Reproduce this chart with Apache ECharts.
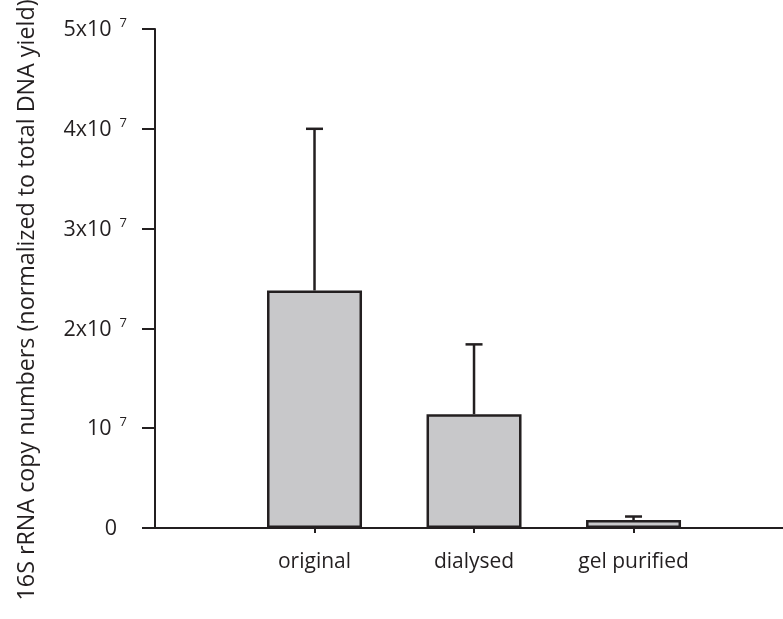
<!DOCTYPE html>
<html>
<head>
<meta charset="utf-8">
<script src="https://cdn.jsdelivr.net/npm/echarts@6/dist/echarts.min.js"></script>
<style>
  html, body { margin: 0; padding: 0; background: #fff; }
  #chart { width: 783px; height: 619px; }
</style>
</head>
<body>
<div id="chart"></div>
<script>
// Sample preparations and 16S rRNA copy numbers (normalized to total DNA yield)
const categories = ['original', 'dialysed', 'gel purified'];
const meanCopies = [2.38e7, 1.14e7, 0.08e7];
const errorUpper = [1.62e7, 0.70e7, 0.035e7];

// Y tick labels: mantissa text and power-of-ten exponent
const yTickMantissa = ['0', '10', '2x10', '3x10', '4x10', '5x10'];
const yTickExponent = ['', '7', '7', '7', '7', '7'];

const yTitle = '16S rRNA copy numbers (normalized to total DNA yield)';

const ink = '#231f20';
const fontFamily = '"Open Sans", "Liberation Sans", sans-serif';

const barData = categories.map((c, i) => [i + 1, meanCopies[i]]);
const errData = categories.map((c, i) => [i + 1, meanCopies[i], meanCopies[i] + errorUpper[i]]);

const chart = echarts.init(document.getElementById('chart'), null, { renderer: 'canvas' });

chart.setOption({
  animation: false,
  backgroundColor: '#ffffff',
  grid: { left: 155, right: 0, top: 29, bottom: 91, containLabel: false },
  xAxis: {
    type: 'value',
    min: 0,
    max: 3.937,
    axisLine: { show: true, onZero: false, lineStyle: { color: ink, width: 2 } },
    axisTick: { show: true, customValues: [1, 2, 3], length: 5, lineStyle: { color: ink, width: 2 } },
    axisLabel: {
      customValues: [1, 2, 3],
      formatter: v => categories[Math.round(v) - 1] || '',
      color: ink, fontFamily, fontSize: 21, margin: 24
    },
    splitLine: { show: false }
  },
  yAxis: {
    type: 'value',
    min: 0,
    max: 5e7,
    interval: 1e7,
    axisLine: { show: true, lineStyle: { color: ink, width: 2 } },
    axisTick: { show: true, length: 13, lineStyle: { color: ink, width: 2 } },
    axisLabel: {
      margin: 28,
      formatter: (v) => {
        const i = Math.round(v / 1e7);
        if (!yTickExponent[i]) return '{b|' + yTickMantissa[i] + '}{pad|}';
        return '{b|' + yTickMantissa[i] + '}{s|' + yTickExponent[i] + '}';
      },
      rich: {
        b: { color: ink, fontFamily, fontSize: 21.5, lineHeight: 24, verticalAlign: 'bottom' },
        s: { color: ink, fontFamily, fontSize: 13, lineHeight: 24, verticalAlign: 'top', padding: [0, 0, 0, 8] },
        pad: { width: 10 }
      }
    },
    splitLine: { show: false }
  },
  graphic: [
    {
      type: 'text',
      x: 27,
      y: 300,
      rotation: Math.PI / 2,
      style: {
        text: yTitle,
        fill: ink,
        font: '23.3px ' + fontFamily,
        align: 'center',
        verticalAlign: 'middle'
      }
    }
  ],
  series: [
    {
      type: 'bar',
      data: barData,
      barWidth: 95,
      itemStyle: { color: '#c8c8ca', borderColor: ink, borderWidth: 2.5 },
      z: 2
    },
    {
      type: 'custom',
      data: errData,
      z: 3,
      renderItem: (params, api) => {
        const x = api.value(0);
        const base = api.coord([x, api.value(1)]);
        const top = api.coord([x, api.value(2)]);
        const half = 8.5;
        return {
          type: 'group',
          children: [
            { type: 'line', shape: { x1: base[0], y1: base[1], x2: top[0], y2: top[1] },
              style: { stroke: ink, lineWidth: 2.5 } },
            { type: 'line', shape: { x1: top[0] - half, y1: top[1], x2: top[0] + half, y2: top[1] },
              style: { stroke: ink, lineWidth: 2.5 } }
          ]
        };
      }
    }
  ]
});
</script>
</body>
</html>
